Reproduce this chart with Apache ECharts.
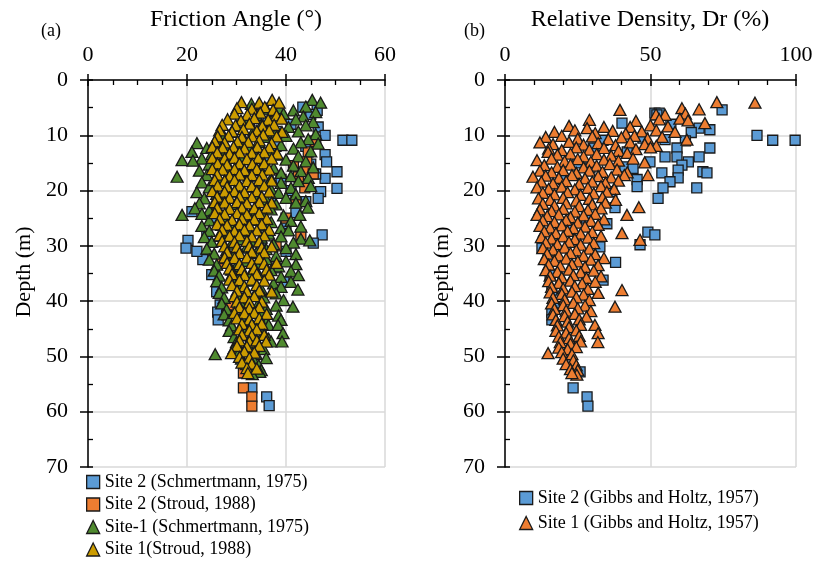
<!DOCTYPE html>
<html>
<head>
<meta charset="utf-8">
<title>Friction angle and relative density vs depth</title>
<script src="https://cdn.jsdelivr.net/npm/echarts@6/dist/echarts.min.js"></script>
<style>
  html, body { margin: 0; background: #fff; }
  #chart { width: 816px; height: 562px; }
</style>
</head>
<body>
<div id="chart"></div>
<script>
// [friction angle (deg), depth (m)]
const site2SchmertmannPhi = [
  [43.4, 4.9], [46.3, 5.5], [45, 6.2], [46.5, 8.5], [41, 8], [36.4, 7.6], [38, 9.3],
  [47.9, 10], [46, 11], [51.5, 10.9], [53.3, 10.9], [44, 12], [47.9, 13.5], [48.2, 14.8],
  [45, 15.2], [50.3, 16.6], [47.9, 17.8], [46, 17], [50.3, 19.6], [47, 20.2], [46.5, 21.4],
  [44, 22], [42, 24], [40, 26], [47.3, 28], [45.5, 29.5], [38, 12], [36, 14], [39, 18],
  [41, 20], [37, 22], [21, 23.8], [20.2, 29], [19.8, 30.4], [23.2, 32.5], [25, 35.2],
  [26, 38.3], [26.7, 40.7], [26.2, 42], [26.3, 43.4], [39.6, 36.5], [38, 34], [24, 28],
  [22, 31], [25, 25], [35, 30], [40, 31], [30, 40], [33.1, 55.7], [36.1, 57.3], [36.6, 58.9]
];
const site2StroudPhi = [
  [35.4, 5.2], [32.3, 7.6], [37, 9], [45.9, 11.2], [44.5, 13], [44.2, 14.8], [41.5, 15.5],
  [44.2, 16.3], [45.5, 17], [42.5, 17.5], [43.8, 19.5], [42, 22], [40, 25], [43, 28],
  [38, 30], [27, 33], [30, 36], [28.3, 41], [28, 42.5], [31.4, 53], [31.4, 55.7],
  [33.1, 57.3], [33.1, 59]
];
const site1SchmertmannPhi = [
  [45.3, 3.6], [47, 4.1], [33, 4.3], [44, 4.8], [38.8, 5.1], [36, 5.2], [41.5, 5.5], [46, 5.8],
  [34, 6.3], [39.5, 6.1], [43.5, 6.6], [32.5, 7.2], [37, 7.4], [42, 7.1], [45.5, 7.6],
  [30, 8.3], [35, 8.1], [40.5, 8.5], [44, 8.2], [29, 9.4], [33.5, 9.1], [38, 9.6], [42.5, 9.3], [46, 9.8],
  [27.5, 10.2], [31.5, 10.6], [36, 10.3], [40, 10.1], [44.5, 10.7],
  [22, 11.4], [26, 11.1], [30, 11.6], [34.5, 11.2], [39, 11.8], [43, 11.3], [46.5, 11.5],
  [24, 12.3], [28, 12.6], [32.5, 12.2], [37, 12.8], [41.5, 12.4], [45, 12.9],
  [21, 13], [25, 13.4], [29, 13.7], [33.5, 13.2], [38, 13.5], [42.5, 13.8],
  [23, 14.2], [27, 14.6], [31, 14.3], [35.5, 14.8], [40, 14.4], [44, 14.7], [19, 14.5], [21.2, 14.6],
  [24.5, 15.3], [28.5, 15.7], [33, 15.4], [37.5, 15.9], [41.5, 15.5], [45.5, 15.8],
  [22.5, 16.4], [26.5, 16.2], [30.5, 16.7], [35, 16.3], [39, 16.8], [43, 16.5],
  [24, 17.2], [28, 17.6], [32.5, 17.3], [37, 17.8], [41, 17.4], [44.5, 17.7], [18, 17.5],
  [23, 18.5], [26.5, 18.2], [30.5, 18.8], [34.5, 18.4], [39, 18.6], [42.5, 18.3],
  [24.5, 19.4], [28.5, 19.7], [33, 19.3], [37, 19.8], [41, 19.5], [45, 19.2],
  [22, 20.3], [26, 20.6], [30, 20.2], [34.5, 20.8], [38.5, 20.4], [42, 20.7],
  [23.5, 21.4], [27.5, 21.8], [31.5, 21.2], [36, 21.6], [40, 21.3], [44, 21.9],
  [22.5, 22.3], [26, 22.7], [30, 22.4], [34, 22.9], [38, 22.5], [42, 22.2],
  [21.6, 23.2], [24.5, 23.6], [28.5, 23.3], [33, 23.8], [37, 23.4], [44.4, 23.1],
  [19, 24.4], [23, 24.2], [27, 24.7], [31.5, 24.3], [35.5, 24.8], [39.5, 24.5], [42.8, 24.4],
  [24.5, 25.4], [28.5, 25.8], [33, 25.3], [37, 25.7], [41, 25.5],
  [23, 26.4], [27, 26.2], [31, 26.7], [35, 26.3], [39, 26.8], [43, 26.5],
  [24.5, 27.3], [28.5, 27.7], [32.5, 27.4], [36.5, 27.8], [40.5, 27.2],
  [23.5, 28.4], [27, 28.2], [31, 28.8], [35, 28.5], [39, 28.3], [43, 28.7],
  [25, 29.3], [29, 29.6], [33, 29.2], [37.5, 29.7], [41.5, 29.4], [44.8, 29],
  [24, 30.5], [28, 30.8], [32, 30.3], [36, 30.6], [40, 30.4],
  [25.5, 31.4], [29.5, 31.7], [34, 31.3], [38, 31.8], [42, 31.5],
  [24.5, 32.5], [28, 32.2], [32, 32.7], [36, 32.4], [40, 32.8],
  [26, 33.4], [30, 33.6], [34, 33.2], [38.5, 33.7], [42, 33.3],
  [25.5, 34.5], [29, 34.3], [33, 34.8], [37, 34.4], [41, 34.6],
  [26.5, 35.4], [30.5, 35.7], [34.5, 35.2], [39, 35.6], [42.5, 35.3],
  [26, 36.4], [29.5, 36.7], [33.5, 36.3], [37.5, 36.8], [41, 36.5],
  [27, 37.5], [31, 37.3], [35, 37.8], [39, 37.4], [42.4, 37.9],
  [26.5, 38.5], [30, 38.8], [34, 38.3], [38, 38.6],
  [27.5, 39.4], [31.5, 39.7], [35.5, 39.3], [39.5, 39.8],
  [27, 40.4], [31, 40.6], [34.5, 40.3], [38, 40.8], [41.4, 41],
  [28, 41.5], [32, 41.8], [36, 41.4], [27.5, 42.4], [31, 42.7], [35, 42.3], [38.5, 42.6],
  [28.5, 43.5], [32.5, 43.3], [36, 43.8], [39, 43.4], [29, 44.4], [33, 44.7], [36.5, 44.3], [38.4, 44.3],
  [28.5, 45.4], [32, 45.2], [35.5, 45.7], [39.4, 45.8], [29.5, 46.5], [33, 46.3], [36.5, 46.8],
  [30, 47.4], [33.5, 47.7], [37, 47.3], [39.2, 47.3], [29.5, 48.5], [32.5, 48.3], [35.5, 48.7],
  [30.5, 49.3], [34, 49.6], [25.7, 49.6], [31, 50.4], [33.5, 50.7], [36, 50.3],
  [32, 51.4], [34.5, 51.6], [33, 52.3], [35, 52.5], [34.7, 52.8], [33.2, 53.2]
];
const site1StroudPhi = [
  [31, 4], [34.6, 4.1], [37.2, 3.6], [38.6, 4.1], [30.1, 5.1], [33.1, 5.2], [35.7, 4.9], [37.4, 5.4],
  [29.6, 6.1], [32.2, 6.3], [34.8, 5.9], [38.1, 6.4], [28.2, 7.1], [30.9, 7.3], [33.6, 6.9], [36.4, 7.2], [39.1, 7],
  [27.1, 8.1], [29.8, 8.2], [32.6, 7.9], [35.2, 8.3], [37.6, 8.1], [26.6, 9.1], [29.1, 9.3], [31.4, 8.9],
  [34.1, 9.2], [36.6, 9.1], [39.2, 9.4], [26.2, 10.2], [28.4, 10.1], [31.1, 10.3], [33.2, 10.2], [35.4, 9.9], [38.1, 10.2],
  [25.6, 11.1], [27.6, 11.3], [30.2, 11.1], [32.4, 11.2], [34.6, 10.9], [37.1, 11.4],
  [25.1, 12.1], [27.2, 12.2], [29.4, 12.1], [31.6, 12.4], [34.2, 12.1], [36.6, 12.2],
  [26.1, 13.1], [28.6, 13.3], [30.6, 13.1], [33.1, 13.2], [35.6, 13.1], [38.2, 13.3],
  [25.1, 14.1], [27.6, 14.2], [29.6, 14.1], [32.1, 14.3], [34.4, 14.1], [37.1, 14.2],
  [26.2, 15.1], [28.1, 15.3], [30.6, 15.1], [33.2, 15.2], [35.6, 15.1],
  [25.1, 16.1], [27.2, 16.2], [29.6, 16.1], [31.6, 16.3], [34.1, 16.1], [36.6, 16.2],
  [26.1, 17.1], [28.6, 17.3], [30.6, 17.1], [33.1, 17.2], [35.2, 17.1],
  [25.6, 18.1], [27.6, 18.2], [29.6, 18.1], [32.1, 18.3], [34.6, 18.1], [37.1, 18.2],
  [26.2, 19.1], [28.1, 19.3], [30.6, 19.1], [33.1, 19.2], [35.6, 19.1],
  [25.1, 20.1], [27.6, 20.2], [29.6, 20.1], [31.6, 20.3], [34.1, 20.1], [36.6, 20.2],
  [26.1, 21.1], [28.6, 21.3], [30.6, 21.1], [33.1, 21.2], [35.1, 21.1],
  [25.6, 22.1], [27.6, 22.2], [30.1, 22.1], [32.1, 22.3], [34.6, 22.1], [37.1, 22.2],
  [26.1, 23.1], [28.6, 23.3], [31.1, 23.1], [33.6, 23.2], [36.1, 23.1],
  [25.6, 24.1], [27.6, 24.2], [30.1, 24.1], [32.1, 24.3], [34.6, 24.1],
  [26.6, 25.1], [29.1, 25.3], [31.1, 25.1], [33.6, 25.2], [36.1, 25.1],
  [26.1, 26.1], [28.1, 26.2], [30.6, 26.1], [32.6, 26.3], [35.1, 26.1],
  [27.1, 27.1], [29.6, 27.3], [31.6, 27.1], [34.1, 27.2], [36.6, 27.1],
  [26.6, 28.1], [28.6, 28.2], [30.6, 28.1], [33.1, 28.3], [35.6, 28.1],
  [27.1, 29.1], [29.6, 29.3], [32.1, 29.1], [34.6, 29.2],
  [27.6, 30.1], [30.1, 30.2], [32.6, 30.1], [35.1, 30.3], [37.1, 30.1],
  [28.1, 31.1], [30.6, 31.3], [33.1, 31.1], [35.6, 31.2],
  [27.6, 32.1], [29.6, 32.2], [32.1, 32.1], [34.6, 32.3],
  [28.1, 33.1], [30.6, 33.3], [33.1, 33.1], [35.6, 33.2], [38.1, 33.1],
  [28.6, 34.1], [31.1, 34.2], [33.6, 34.1], [36.1, 34.3],
  [29.1, 35.1], [31.6, 35.3], [34.1, 35.1], [36.6, 35.2],
  [28.6, 36.1], [30.6, 36.2], [33.1, 36.1], [35.6, 36.3],
  [29.1, 37.1], [31.6, 37.3], [34.1, 37.1],
  [30.1, 38.1], [32.1, 38.2], [34.6, 38.1], [37.1, 38.3],
  [29.6, 39.1], [31.6, 39.3], [33.6, 39.1],
  [30.1, 40.1], [32.6, 40.2], [35.1, 40.1],
  [30.6, 41.1], [32.6, 41.3], [34.6, 41.1],
  [29.6, 42.1], [31.6, 42.2], [33.6, 42.1], [36.1, 42.3],
  [30.1, 43.1], [32.6, 43.3], [34.6, 43.1],
  [31.1, 44.1], [33.1, 44.2], [35.1, 44.1],
  [30.6, 45.1], [32.6, 45.3], [34.1, 45.1],
  [31.1, 46.1], [33.1, 46.2], [35.6, 46.1],
  [30.6, 47.1], [32.6, 47.3], [34.1, 47.1], [36, 47.3],
  [30.1, 48.1], [32.1, 48.2], [34.6, 48.1],
  [29, 49.4], [31.6, 49.1], [33.6, 49.3],
  [30.6, 50.1], [32.6, 50.3], [31.1, 51.1], [33.1, 51.3],
  [32.1, 52.1], [34.1, 52.2], [32.3, 53]
];

// [relative density Dr (%), depth (m)]
const site2GibbsDr = [
  [74.6, 5.4], [51.5, 6], [53, 6], [52.2, 6.3], [40.2, 7.8], [57, 8], [66.7, 8.7], [70.4, 9],
  [64, 9.5], [86.6, 10], [92, 10.9], [99.7, 10.9], [47.4, 10.5], [55, 10.8], [33.7, 10.9], [62, 11],
  [70.4, 12.3], [59.1, 12.3], [30.3, 12.3], [42, 13], [66.7, 13.9], [55, 13.9], [59.1, 13.9],
  [63, 14.8], [49.8, 14.8], [60.8, 15.4], [25, 15], [41.2, 15.7], [29.2, 15.9], [44, 16],
  [59.5, 16.3], [68, 16.6], [69.4, 16.8], [53.9, 16.8], [59.5, 17.7], [45.4, 18], [20, 18],
  [56.7, 18.4], [45.4, 19.3], [54.3, 19.5], [65.9, 19.5], [36.7, 20.2], [52.6, 21.4],
  [37.8, 23.1], [35, 26], [22, 27], [28, 25], [49.1, 27.5], [51.5, 28], [46.4, 29.8],
  [12.7, 30.4], [32.6, 30.2], [14.8, 32.5], [38, 33], [15.5, 35.3], [33.7, 36.2], [16.1, 38],
  [17.2, 41], [16.1, 42], [16.1, 43.4], [21.6, 49.7], [25.8, 52.8], [23.4, 55.7], [28.2, 57.3], [28.5, 59]
];
const site1GibbsDr = [
  [72.8, 4], [85.9, 4.1], [39.5, 5.4], [60.8, 5.1], [66.7, 5.3], [51.9, 6.2], [55, 6.3], [62, 6.1],
  [29, 7.2], [45, 7.4], [53, 7.1], [60.1, 7], [62.9, 7.3],
  [22, 8.3], [28.2, 8.7], [34, 8.5], [43, 8.5], [50, 8.2], [56, 8.4], [68.7, 7.8],
  [17, 9.4], [24, 9.1], [31, 9.6], [37, 9.2], [41.5, 9.7], [47, 9.3], [52, 9.1], [58.4, 9.4],
  [14, 10.3], [19.5, 10.1], [25, 10.6], [30, 10.2], [35.5, 10.7], [40, 10.4], [44.5, 10.1], [49, 10.6], [54, 10.3], [62.5, 10.8],
  [12, 11.3], [16.5, 11.6], [22, 11.2], [27, 11.7], [32, 11.4], [38, 11.8], [43, 11.3], [48, 11.6], [52, 11.9],
  [15, 12.4], [19.5, 12.7], [24.5, 12.2], [29, 12.6], [34, 12.3], [39, 12.8], [45, 12.5], [50, 12.2],
  [14.8, 13], [18, 13.5], [22.5, 13.3], [27, 13.8], [31.5, 13.4], [36.5, 13.7], [42, 13.2],
  [11, 14.5], [16, 14.2], [20.5, 14.7], [25, 14.3], [29.5, 14.8], [34, 14.4], [39, 14.6], [44, 14.2], [48, 14.9],
  [13.5, 15.4], [18, 15.7], [22.5, 15.3], [27, 15.8], [31.5, 15.5], [36, 15.2],
  [12, 16.4], [16, 16.7], [20, 16.3], [24.5, 16.8], [29, 16.4], [33.5, 16.6], [38.5, 16.2], [42, 16.7],
  [9.6, 17.5], [14, 17.3], [18.5, 17.7], [23, 17.2], [27.5, 17.8], [32, 17.4], [36.5, 17.6], [41, 17.2], [49.1, 17.2],
  [12.5, 18.4], [16.5, 18.7], [21, 18.3], [25.5, 18.8], [30, 18.4], [34.5, 18.6], [39, 18.2],
  [11, 19.4], [15, 19.7], [19.5, 19.3], [24, 19.8], [28.5, 19.5], [33, 19.2], [37.5, 19.7],
  [13, 20.4], [17, 20.7], [21.5, 20.3], [26, 20.8], [30.5, 20.5], [35, 20.2],
  [11.5, 21.4], [15.5, 21.7], [20, 21.3], [24.5, 21.8], [29, 21.5], [33.5, 21.2], [38, 21.7],
  [13, 22.4], [17, 22.7], [21, 22.3], [25.5, 22.8], [30, 22.5], [34.5, 22.2],
  [12, 23.4], [16, 23.7], [20, 23.3], [24, 23.8], [28.5, 23.5], [33, 23.2], [46, 23],
  [11, 24.4], [14.5, 24.6], [18.5, 24.3], [22.5, 24.8], [27, 24.5], [31, 24.2], [41.9, 24.4],
  [13, 25.4], [17, 25.7], [21, 25.3], [25, 25.8], [29.5, 25.5], [34, 25.2],
  [12, 26.4], [15.5, 26.7], [19.5, 26.3], [23.5, 26.8], [27.5, 26.5], [32, 26.2],
  [13.5, 27.4], [17.5, 27.7], [21.5, 27.3], [26, 27.8], [30, 27.5], [40.2, 27.7],
  [12.5, 28.4], [16, 28.7], [20, 28.3], [24, 28.8], [28.5, 28.5], [33, 28.2],
  [14, 29.4], [18, 29.7], [22, 29.3], [26, 29.8], [30.5, 29.5], [46.4, 28.9],
  [13, 30.4], [16.5, 30.7], [20.5, 30.3], [24.5, 30.8], [29, 30.5],
  [14.5, 31.4], [18.5, 31.7], [22.5, 31.3], [27, 31.8], [31, 31.5],
  [13.5, 32.4], [17, 32.7], [21, 32.3], [25, 32.8], [29.5, 32.5], [34, 32.2],
  [15, 33.4], [19, 33.7], [23, 33.3], [27.5, 33.8], [32, 33.5],
  [14, 34.4], [18, 34.7], [22, 34.3], [26, 34.8], [30.5, 34.5],
  [15.5, 35.4], [19.5, 35.7], [23.5, 35.3], [28, 35.8], [33, 35.5],
  [15, 36.4], [18.5, 36.7], [22.5, 36.3], [26.5, 36.8], [31, 36.5],
  [16, 37.4], [20, 37.7], [24, 37.3], [28.5, 37.8],
  [15.5, 38.4], [19.5, 38.7], [23, 38.3], [27, 38.8], [32, 38.5], [40.2, 38],
  [16.5, 39.4], [20.5, 39.7], [24.5, 39.3], [29, 39.8],
  [16, 40.4], [20, 40.7], [23.5, 40.3], [27.5, 40.8],
  [17, 41.4], [21, 41.7], [25, 41.3], [29.5, 41.8], [37.8, 41],
  [16.5, 42.4], [20.5, 42.7], [24, 42.3], [28, 42.8],
  [17.5, 43.4], [21.5, 43.7], [25.5, 43.3],
  [18, 44.4], [22, 44.7], [26, 44.3], [30.9, 44.3],
  [17.5, 45.4], [21, 45.7], [24.5, 45.3],
  [18.5, 46.4], [22, 46.7], [25.5, 46.3], [32, 45.8],
  [19, 47.4], [22.5, 47.7], [26, 47.3], [31.9, 47.4],
  [18.5, 48.4], [21.5, 48.7], [24.5, 48.3],
  [19.5, 49.2], [23, 49.6], [14.8, 49.4],
  [20, 50.4], [23.5, 50.7], [21, 51.4], [24.5, 51.6],
  [22.5, 52.3], [25, 52.5], [24.7, 53.3], [23, 53]
];

const phiTicks = [0, 20, 40, 60];
const drTicks = [0, 50, 100];
const depthTicks = [0, 10, 20, 30, 40, 50, 60, 70];

const SERIF = '"Liberation Serif", "Times New Roman", serif';
const INK = '#000';
const GRID_GREY = '#d9d9d9';

function mainX(gridIndex, ticks) {
  return {
    gridIndex,
    type: 'value',
    position: 'top',
    min: ticks[0],
    max: ticks[ticks.length - 1],
    interval: ticks[1] - ticks[0],
    axisLine: { show: true, onZero: false, lineStyle: { color: INK, width: 1.5 } },
    axisTick: { show: true, inside: false, length: 6, lineStyle: { color: INK, width: 1.5 } },
    axisLabel: { color: INK, fontFamily: SERIF, fontSize: 22, margin: 14 },
    splitLine: { show: true, lineStyle: { color: GRID_GREY, width: 1.5 } }
  };
}

// second axis on the same edge: inward major ticks (so they cross the line) and minor ticks
function overlayX(gridIndex, ticks, minorSplit) {
  return {
    gridIndex,
    type: 'value',
    position: 'top',
    min: ticks[0],
    max: ticks[ticks.length - 1],
    interval: ticks[1] - ticks[0],
    axisLine: { show: false, onZero: false },
    axisTick: { show: true, inside: true, length: 6, lineStyle: { color: INK, width: 1.5 } },
    minorTick: { show: true, splitNumber: minorSplit, length: 5, lineStyle: { color: INK, width: 1.3 } },
    axisLabel: { show: false },
    splitLine: { show: false }
  };
}

function mainY(gridIndex) {
  return {
    gridIndex,
    type: 'value',
    position: 'left',
    inverse: true,
    min: depthTicks[0],
    max: depthTicks[depthTicks.length - 1],
    interval: 10,
    axisLine: { show: true, onZero: false, lineStyle: { color: INK, width: 1.5 } },
    axisTick: { show: true, inside: false, length: 8, lineStyle: { color: INK, width: 1.5 } },
    axisLabel: { color: INK, fontFamily: SERIF, fontSize: 22, margin: 20 },
    splitLine: { show: true, lineStyle: { color: GRID_GREY, width: 1.5 } }
  };
}

function overlayY(gridIndex) {
  return {
    gridIndex,
    type: 'value',
    position: 'left',
    inverse: true,
    min: depthTicks[0],
    max: depthTicks[depthTicks.length - 1],
    interval: 10,
    axisLine: { show: false, onZero: false },
    axisTick: { show: true, inside: true, length: 5, lineStyle: { color: INK, width: 1.5 } },
    minorTick: { show: true, splitNumber: 2, length: 5, lineStyle: { color: INK, width: 1.3 } },
    axisLabel: { show: false },
    splitLine: { show: false }
  };
}

function scatter(name, data, axisIndex, symbol, color) {
  return {
    name,
    type: 'scatter',
    xAxisIndex: axisIndex,
    yAxisIndex: axisIndex,
    data,
    symbol,
    symbolSize: symbol === 'rect' ? 10 : [12, 11],
    itemStyle: { color, borderColor: '#1a1a1a', borderWidth: 1.3, opacity: 1 }
  };
}

const legendText = { color: INK, fontFamily: SERIF, fontSize: 18, lineHeight: 19 };

const chart = echarts.init(document.getElementById('chart'));

chart.setOption({
  animation: false,
  backgroundColor: '#fff',
  grid: [
    { left: 88, top: 80, width: 297, height: 387 },
    { left: 505, top: 80, width: 291, height: 387 }
  ],
  xAxis: [
    mainX(0, phiTicks), overlayX(0, phiTicks, 4),
    mainX(1, drTicks), overlayX(1, drTicks, 5)
  ],
  yAxis: [mainY(0), overlayY(0), mainY(1), overlayY(1)],
  legend: [
    {
      orient: 'vertical',
      left: 86,
      top: 472.5,
      padding: 0,
      itemGap: 3.5,
      itemWidth: 13,
      itemHeight: 13,
      itemStyle: { borderColor: '#1a1a1a', borderWidth: 1.3 },
      textStyle: legendText,
      data: ['Site 2 (Schmertmann, 1975)', 'Site 2 (Stroud, 1988)', 'Site-1 (Schmertmann, 1975)', 'Site 1(Stroud, 1988)']
    },
    {
      orient: 'vertical',
      left: 519,
      top: 488.5,
      padding: 0,
      itemGap: 6,
      itemWidth: 13,
      itemHeight: 13,
      itemStyle: { borderColor: '#1a1a1a', borderWidth: 1.3 },
      textStyle: legendText,
      data: ['Site 2 (Gibbs and Holtz, 1957)', 'Site 1 (Gibbs and Holtz, 1957)']
    }
  ],
  graphic: [
    { type: 'text', left: 41, top: 22, style: { text: '(a)', font: '18px ' + SERIF, fill: INK } },
    { type: 'text', left: 464, top: 22, style: { text: '(b)', font: '18px ' + SERIF, fill: INK } },
    { type: 'text', x: 236, y: 20, style: { text: 'Friction Angle (°)', font: '24px ' + SERIF, fill: INK, align: 'center', verticalAlign: 'middle' } },
    { type: 'text', x: 650, y: 20, style: { text: 'Relative Density, Dr (%)', font: '24px ' + SERIF, fill: INK, align: 'center', verticalAlign: 'middle' } },
    { type: 'text', x: 24, y: 272, rotation: Math.PI / 2, style: { text: 'Depth (m)', font: '22px ' + SERIF, fill: INK, align: 'center', verticalAlign: 'middle' } },
    { type: 'text', x: 442, y: 272, rotation: Math.PI / 2, style: { text: 'Depth (m)', font: '22px ' + SERIF, fill: INK, align: 'center', verticalAlign: 'middle' } }
  ],
  series: [
    scatter('Site 2 (Schmertmann, 1975)', site2SchmertmannPhi, 0, 'rect', '#5b9bd5'),
    scatter('Site 2 (Stroud, 1988)', site2StroudPhi, 0, 'rect', '#ed7d31'),
    scatter('Site-1 (Schmertmann, 1975)', site1SchmertmannPhi, 0, 'triangle', '#4f8a2f'),
    scatter('Site 1(Stroud, 1988)', site1StroudPhi, 0, 'triangle', '#cc9c00'),
    scatter('Site 2 (Gibbs and Holtz, 1957)', site2GibbsDr, 2, 'rect', '#5b9bd5'),
    scatter('Site 1 (Gibbs and Holtz, 1957)', site1GibbsDr, 2, 'triangle', '#ed7d31')
  ]
});
</script>
</body>
</html>
